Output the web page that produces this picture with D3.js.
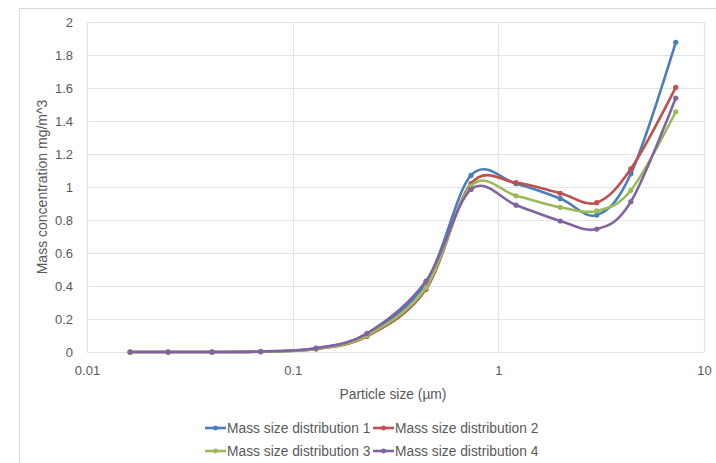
<!DOCTYPE html>
<html>
<head>
<meta charset="utf-8">
<script src="https://cdn.jsdelivr.net/npm/d3@7"></script>
<style>
  html, body { margin: 0; padding: 0; background: #fff; }
  svg { display: block; font-family: "Liberation Sans", Arial, sans-serif; }
</style>
</head>
<body>
<svg id="chart" width="716" height="463"></svg>
<script>
// Particle size bins (µm) and mass concentration per series (mg/m^3)
const sizes = [0.0162, 0.0248, 0.0405, 0.070, 0.130, 0.230, 0.445, 0.736, 1.22, 2.0, 3.01, 4.41, 7.29];
const dist1 = [0, 0, 0, 0.003, 0.022, 0.110, 0.420, 1.070, 1.020, 0.930, 0.830, 1.080, 1.877];
const dist2 = [0, 0, 0, 0.002, 0.018, 0.095, 0.380, 1.020, 1.026, 0.962, 0.905, 1.110, 1.604];
const dist3 = [0, 0, 0, 0.002, 0.019, 0.100, 0.390, 1.006, 0.947, 0.877, 0.855, 0.980, 1.456];
const dist4 = [0, 0, 0, 0.003, 0.023, 0.113, 0.430, 0.985, 0.890, 0.794, 0.745, 0.911, 1.539];
const seriesNames = ["Mass size distribution 1", "Mass size distribution 2",
                     "Mass size distribution 3", "Mass size distribution 4"];
const seriesColors = ["#4A7EBB", "#C0504D", "#9BBB59", "#8064A2"];
const xTicks = [0.01, 0.1, 1, 10];
const yTicks = [0, 0.2, 0.4, 0.6, 0.8, 1, 1.2, 1.4, 1.6, 1.8, 2];

const allSeries = [dist1, dist2, dist3, dist4];
const svg = d3.select("#chart");
const textColor = "#595959";

// outer chart frame
svg.append("rect").attr("x", 19.5).attr("y", 8.5).attr("width", 720).attr("height", 470)
  .attr("fill", "#fff").attr("stroke", "#d9d9d9");

const L = 87, R = 704, T = 22, B = 352;
const x = d3.scaleLog().domain([0.01, 10]).range([L, R]);
const y = d3.scaleLinear().domain([0, 2]).range([B, T]);

// gridlines
const grid = svg.append("g");
grid.selectAll("line.h").data(yTicks).join("line")
  .attr("x1", L).attr("x2", R)
  .attr("y1", d => Math.round(y(d)) + 0.5).attr("y2", d => Math.round(y(d)) + 0.5)
  .attr("stroke", "#e3e3e3").attr("stroke-width", 1.2);
grid.selectAll("line.v").data(xTicks).join("line")
  .attr("y1", T).attr("y2", B)
  .attr("x1", d => Math.round(x(d)) + 0.5).attr("x2", d => Math.round(x(d)) + 0.5)
  .attr("stroke", "#e3e3e3").attr("stroke-width", 1.2);

// axes (labels only; the frame comes from the grid)
const yAxis = svg.append("g").attr("transform", `translate(${L},0)`)
  .call(d3.axisLeft(y).tickValues(yTicks).tickSize(0).tickPadding(14).tickFormat(d3.format("~g")));
const xAxis = svg.append("g").attr("transform", `translate(0,${B})`)
  .call(d3.axisBottom(x).tickValues(xTicks).tickSize(0).tickPadding(14).tickFormat(d => String(d)));
[yAxis, xAxis].forEach(a => {
  a.select(".domain").remove();
  a.selectAll("text").attr("fill", textColor).style("font-size", "13px")
    .style("font-family", "'Liberation Sans', Arial, sans-serif");
});

// axis titles
svg.append("text").attr("x", 393).attr("y", 399).attr("text-anchor", "middle")
  .attr("fill", textColor).style("font-size", "13.8px").text("Particle size (µm)");
svg.append("text").attr("transform", `translate(47,${(T + B) / 2}) rotate(-90)`)
  .attr("text-anchor", "middle").attr("fill", textColor).style("font-size", "14px")
  .text("Mass concentration mg/m^3");

// smoothed series lines with markers
const line = d3.line().x(d => x(d[0])).y(d => y(d[1])).curve(d3.curveCatmullRom.alpha(0));
allSeries.forEach((vals, i) => {
  const pts = sizes.map((s, j) => [s, vals[j]]);
  const g = svg.append("g");
  g.append("path").datum(pts).attr("d", line).attr("fill", "none")
    .attr("stroke", seriesColors[i]).attr("stroke-width", 2.6).attr("stroke-linejoin", "round");
  g.selectAll("circle").data(pts).join("circle")
    .attr("cx", d => x(d[0])).attr("cy", d => y(d[1])).attr("r", 2.6)
    .attr("fill", seriesColors[i]);
});

// legend
const legendPos = [[205, 428], [373, 428], [205, 451], [373, 451]];
seriesNames.forEach((name, i) => {
  const [lx, ly] = legendPos[i];
  const g = svg.append("g").attr("transform", `translate(${lx},${ly})`);
  g.append("line").attr("x1", 0).attr("x2", 21).attr("y1", 0).attr("y2", 0)
    .attr("stroke", seriesColors[i]).attr("stroke-width", 2.6);
  g.append("circle").attr("cx", 10.5).attr("cy", 0).attr("r", 2.4).attr("fill", seriesColors[i]);
  g.append("text").attr("x", 22).attr("y", 5).attr("fill", textColor)
    .style("font-size", "13.8px").text(name);
});
</script>
</body>
</html>
